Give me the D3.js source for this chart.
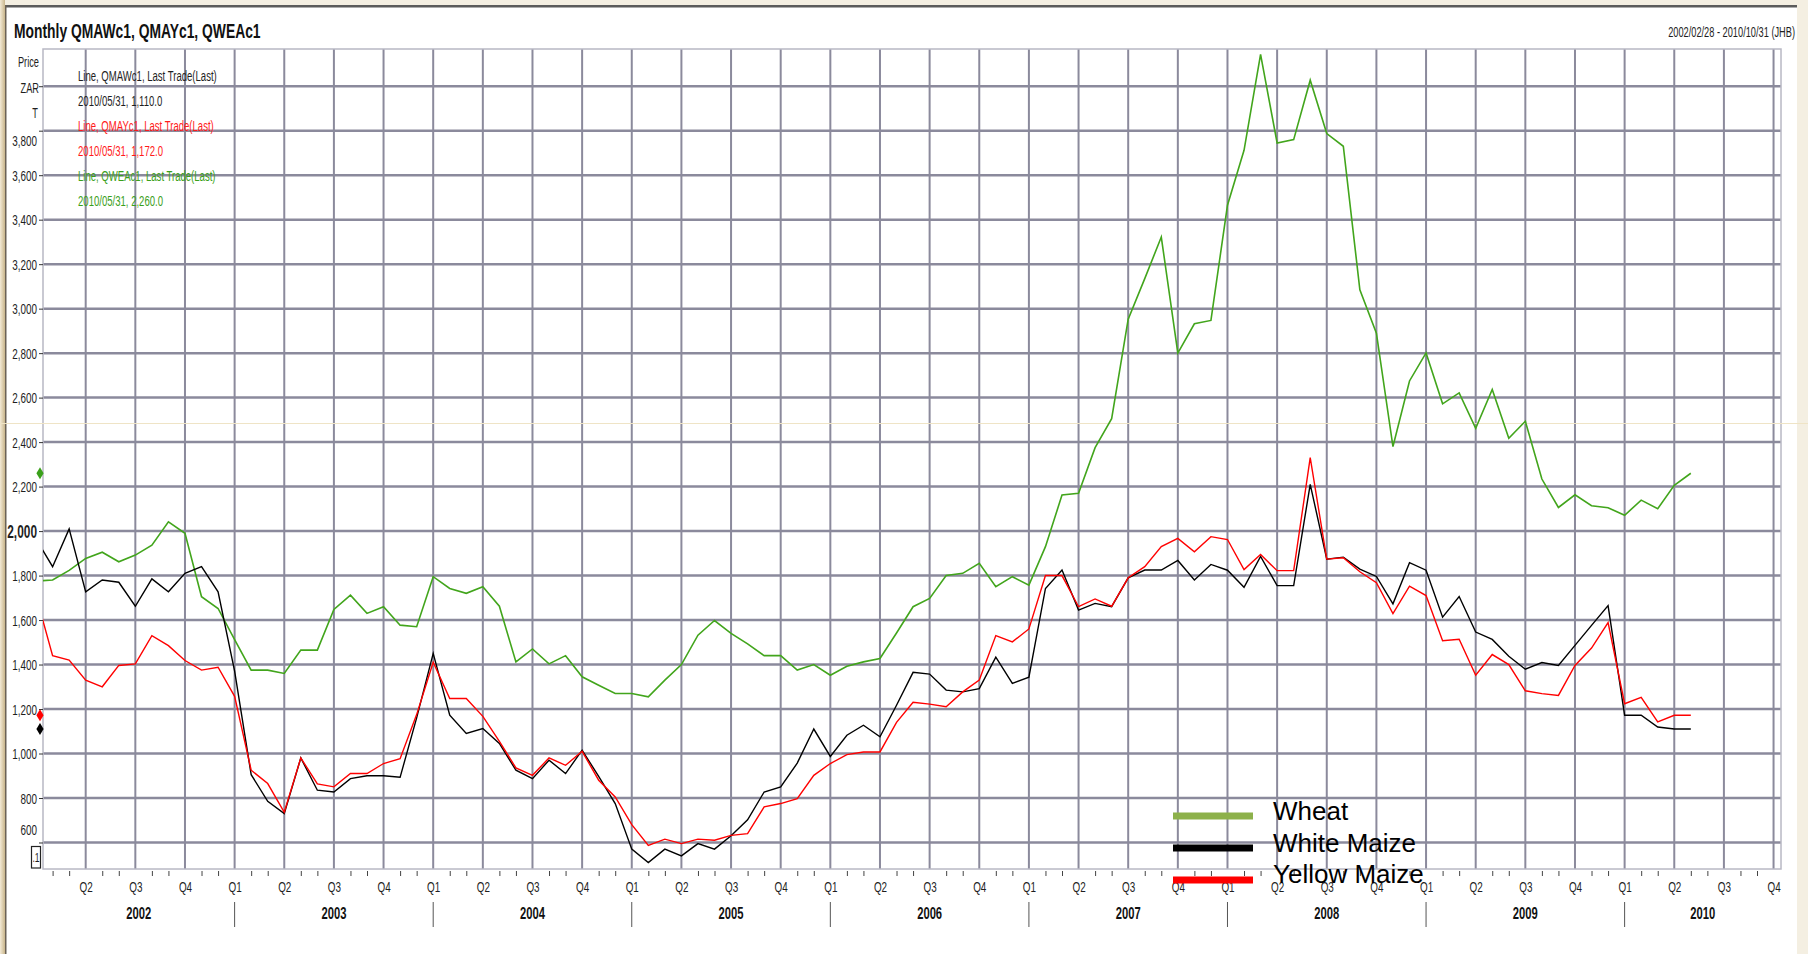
<!DOCTYPE html>
<html>
<head>
<meta charset="utf-8">
<script src="https://cdn.jsdelivr.net/npm/d3@7"></script>
<style>
  html, body { margin: 0; padding: 0; background: #fff; }
  svg { display: block; font-family: "Liberation Sans", Arial, sans-serif; }
</style>
</head>
<body>
<svg id="chart" width="1808" height="954"></svg>
<script>
// Monthly last trade, ZAR per ton, one value per month starting Jan 2002 (index 0)
const whiteMaize = [
  1965, 1840, 2010, 1727, 1780, 1770, 1662, 1785, 1727, 1810, 1840, 1727,
  1370, 905, 785, 730, 980, 835, 827, 887, 900, 900, 893, 1160,
  1450, 1172, 1090, 1112, 1045, 925, 887, 970, 910, 1015, 897, 775,
  570, 510, 570, 540, 595, 570, 630, 702, 827, 850, 957, 1110,
  987, 1082, 1127, 1075, 1217, 1365, 1357, 1285, 1277, 1292, 1433, 1315,
  1343, 1742, 1825, 1645, 1675, 1660, 1790, 1825, 1825, 1868, 1780, 1850,
  1824, 1747, 1886, 1755, 1755, 2210, 1874, 1883, 1829, 1796, 1673, 1858,
  1824, 1613, 1706, 1546, 1513, 1437, 1379, 1409, 1396, 1486, 1576, 1665,
  1172, 1172, 1119, 1110, 1110
];
const yellowMaize = [
  1710, 1440, 1420, 1330, 1300, 1396, 1403, 1530, 1485, 1418, 1375, 1388,
  1257, 925, 865, 736, 980, 863, 850, 910, 910, 955, 977, 1175,
  1410, 1247, 1247, 1167, 1055, 935, 902, 980, 947, 1010, 880, 805,
  680, 587, 615, 595, 615, 610, 632, 640, 760, 775, 797, 902,
  955, 995, 1007, 1007, 1140, 1230, 1222, 1210, 1277, 1330, 1530, 1502,
  1560, 1800, 1800, 1660, 1695, 1662, 1790, 1840, 1930, 1967, 1907, 1975,
  1962, 1827, 1895, 1822, 1822, 2330, 1874, 1880, 1817, 1768, 1629, 1752,
  1710, 1507, 1514, 1352, 1445, 1400, 1282, 1269, 1261, 1396, 1474, 1589,
  1224, 1253, 1142, 1172, 1172
];
const wheat = [
  1775, 1780, 1823, 1877, 1905, 1862, 1892, 1937, 2042, 1990, 1705, 1652,
  1512, 1375, 1375, 1360, 1465, 1465, 1648, 1712, 1630, 1660, 1577, 1570,
  1795, 1742, 1720, 1750, 1662, 1412, 1470, 1403, 1440, 1345, 1307, 1270,
  1270, 1255, 1330, 1400, 1532, 1598, 1540, 1493, 1440, 1440, 1375, 1400,
  1352, 1392, 1412, 1427, 1542, 1660, 1697, 1800, 1810, 1855, 1750, 1795,
  1757, 1930, 2162, 2170, 2375, 2505, 2953, 3135, 3322, 2800, 2932, 2947,
  3465, 3712, 4143, 3745, 3760, 4027, 3787, 3730, 3085, 2890, 2380, 2675,
  2801, 2572, 2621, 2462, 2637, 2417, 2494, 2234, 2106, 2163, 2114, 2105,
  2071, 2139, 2101, 2206, 2260
];

const yTicks = [600, 800, 1000, 1200, 1400, 1600, 1800, 2000, 2200, 2400, 2600, 2800, 3000, 3200, 3400, 3600, 3800, 4000];
const quarterNames = ["Q1", "Q2", "Q3", "Q4"];
const years = [2002, 2003, 2004, 2005, 2006, 2007, 2008, 2009, 2010];
const infoLines = [
  ["Line, QMAWc1, Last Trade(Last)", "#1e1e1e"],
  ["2010/05/31, 1,110.0", "#1e1e1e"],
  ["Line, QMAYc1, Last Trade(Last)", "#ff1a1a"],
  ["2010/05/31, 1,172.0", "#ff1a1a"],
  ["Line, QWEAc1, Last Trade(Last)", "#3aa01a"],
  ["2010/05/31, 2,260.0", "#3aa01a"]
];
const legendItems = [["Wheat", "#8db14b"], ["White Maize", "#000000"], ["Yellow Maize", "#ff0000"]];

const plot = { left: 43, right: 1781, top: 49, bottom: 869 };
const squeeze = 0.66;   // the original picture is squashed sideways
const gridColor = "#8b8a9c";

const svg = d3.select("#chart");

const x = d3.scaleLinear().domain([0.42, 105.45]).range([plot.left, plot.right]);
const y = d3.scaleLinear().domain([800, 3800]).range([798, 130.7]);

// page background / frame
const defs = svg.append("defs");
const edge = defs.append("linearGradient").attr("id", "edge").attr("x1", "0%").attr("x2", "100%");
edge.append("stop").attr("offset", "0%").attr("stop-color", "#f3ead6");
edge.append("stop").attr("offset", "100%").attr("stop-color", "#c9b68c");
defs.append("clipPath").attr("id", "plotClip").append("rect")
    .attr("x", plot.left).attr("y", plot.top)
    .attr("width", plot.right - plot.left).attr("height", plot.bottom - plot.top);

svg.append("rect").attr("width", 1808).attr("height", 954).attr("fill", "#f4efe2");
svg.append("rect").attr("x", 6).attr("y", 7).attr("width", 1791).attr("height", 947).attr("fill", "#fff");
svg.append("rect").attr("x", 0).attr("y", 0).attr("width", 5).attr("height", 954).attr("fill", "url(#edge)");
svg.append("rect").attr("x", 5).attr("y", 5).attr("width", 1792).attr("height", 2.5).attr("fill", "#5b5b5b");
svg.append("rect").attr("x", 5).attr("y", 5).attr("width", 1.5).attr("height", 949).attr("fill", "#6b6256");

// helper for squeezed text
function label(g, px, py, str, size, opts = {}) {
    return g.append("text")
        .attr("transform", `translate(${px},${py}) scale(${opts.sx || squeeze},1)`)
        .attr("text-anchor", opts.anchor || "start")
        .attr("font-size", size)
        .attr("font-weight", opts.bold ? "bold" : "normal")
        .attr("fill", opts.color || "#1e1e1e")
        .text(str);
}

label(svg, 14, 37.5, "Monthly QMAWc1, QMAYc1, QWEAc1", 21, { bold: true, color: "#111" });
label(svg, 1795, 37, "2002/02/28 - 2010/10/31 (JHB)", 14, { anchor: "end" });
label(svg, 39, 66.5, "Price", 14, { anchor: "end" });
label(svg, 39, 93, "ZAR", 14, { anchor: "end" });
label(svg, 38, 118, "T", 14, { anchor: "end" });

// grid
const quarterMonths = d3.range(3, 106, 3);
const minorMonths = d3.range(1, 106).filter((m) => m % 3 !== 0);

svg.append("g").selectAll("line").data(yTicks).join("line")
    .attr("x1", plot.left).attr("x2", plot.right)
    .attr("y1", (d) => y(d)).attr("y2", (d) => y(d))
    .attr("stroke", gridColor).attr("stroke-width", 2.5);

svg.append("g").selectAll("line").data(quarterMonths).join("line")
    .attr("x1", (d) => x(d)).attr("x2", (d) => x(d))
    .attr("y1", plot.top).attr("y2", plot.bottom)
    .attr("stroke", gridColor).attr("stroke-width", 2);

svg.append("rect")
    .attr("x", plot.left).attr("y", plot.top)
    .attr("width", plot.right - plot.left).attr("height", plot.bottom - plot.top)
    .attr("fill", "none").attr("stroke", "#b8b8c4").attr("stroke-width", 1.5);

// faint slide line crossing the picture
svg.append("line").attr("x1", 0).attr("x2", 1808).attr("y1", 423.5).attr("y2", 423.5)
    .attr("stroke", "#efe4c6").attr("stroke-width", 1);

// y axis
const yAxis = svg.append("g")
    .attr("transform", `translate(${plot.left},0)`)
    .call(d3.axisLeft(y).tickValues(yTicks).tickSize(4).tickFormat((d) => (d === 4000 ? "" : d3.format(",")(d))));
yAxis.select(".domain").remove();
yAxis.selectAll(".tick line").attr("stroke", "#333");
yAxis.selectAll(".tick text")
    .attr("x", null).attr("dy", null)
    .attr("font-family", null)
    .attr("fill", "#1e1e1e")
    .attr("font-size", (d) => (d === 2000 ? 18 : 15))
    .attr("font-weight", (d) => (d === 2000 ? "bold" : "normal"))
    .attr("transform", (d) => {
        let shift = d === 3800 ? 10 : d === 600 ? -12.5 : 0;
        return `translate(-6,${5 + shift + (d === 2000 ? 1 : 0)}) scale(${squeeze},1)`;
    });

// x axis: monthly ticks, quarter labels, years
const minorAxis = svg.append("g")
    .attr("transform", `translate(0,${plot.bottom + 2})`)
    .call(d3.axisBottom(x).tickValues(minorMonths).tickSize(5).tickFormat(""));
minorAxis.select(".domain").remove();
minorAxis.selectAll(".tick line").attr("stroke", "#444");

const qAxis = svg.append("g")
    .attr("transform", `translate(0,${plot.bottom})`)
    .call(d3.axisBottom(x).tickValues(quarterMonths).tickSize(0)
        .tickFormat((m) => quarterNames[(m % 12) / 3]));
qAxis.select(".domain").remove();
qAxis.selectAll(".tick text")
    .attr("y", null).attr("dy", null).attr("font-family", null)
    .attr("font-size", 15).attr("fill", "#1e1e1e")
    .attr("transform", `translate(0,23) scale(${squeeze},1)`);

svg.append("g").selectAll("line").data(years.slice(1)).join("line")
    .attr("x1", (d) => x((d - 2002) * 12)).attr("x2", (d) => x((d - 2002) * 12))
    .attr("y1", 902).attr("y2", 927)
    .attr("stroke", "#555").attr("stroke-width", 1);

const [d0, d1] = x.domain();
years.forEach((yr) => {
    const a = Math.max((yr - 2002) * 12, d0);
    const b = Math.min((yr - 2001) * 12, d1);
    label(svg, x((a + b) / 2), 919, String(yr), 17, { anchor: "middle", bold: true, color: "#111" });
});

// series
const line = d3.line().x((d, i) => x(i)).y((d) => y(d));
const lines = svg.append("g").attr("clip-path", "url(#plotClip)");
[[wheat, "#42a51c", 1.6], [whiteMaize, "#000", 1.4], [yellowMaize, "#ff0000", 1.4]].forEach(([data, color, w]) => {
    lines.append("path").datum(data)
        .attr("d", line)
        .attr("fill", "none")
        .attr("stroke", color)
        .attr("stroke-width", w)
        .attr("stroke-linejoin", "miter");
});

// last-value markers on the axis
[[wheat, "#3aa01a"], [yellowMaize, "#ff0000"], [whiteMaize, "#000"]].forEach(([data, color]) => {
    svg.append("path")
        .attr("transform", `translate(40,${y(data[data.length - 1])})`)
        .attr("d", "M0,-6L3.6,0L0,6L-3.6,0Z")
        .attr("fill", color);
});

// little ".1" box
svg.append("rect").attr("x", 31.5).attr("y", 846.5).attr("width", 9).attr("height", 21.5)
    .attr("fill", "#fff").attr("stroke", "#222").attr("stroke-width", 1.2);
label(svg, 36, 862, ".1", 13, { anchor: "middle" });

// info text in plot
infoLines.forEach(([txt, color], i) => {
    label(svg, 78, 80.5 + i * 25, txt, 14.5, { color: color });
});

// legend
const legend = svg.append("g");
legendItems.forEach(([name, color], i) => {
    legend.append("rect")
        .attr("x", 1173).attr("y", 812.5 + i * 32)
        .attr("width", 80).attr("height", 7)
        .attr("fill", color);
    legend.append("text")
        .attr("x", 1273).attr("y", 820 + i * 31.5)
        .attr("font-size", 26)
        .attr("fill", "#000")
        .text(name);
});
</script>
</body>
</html>
